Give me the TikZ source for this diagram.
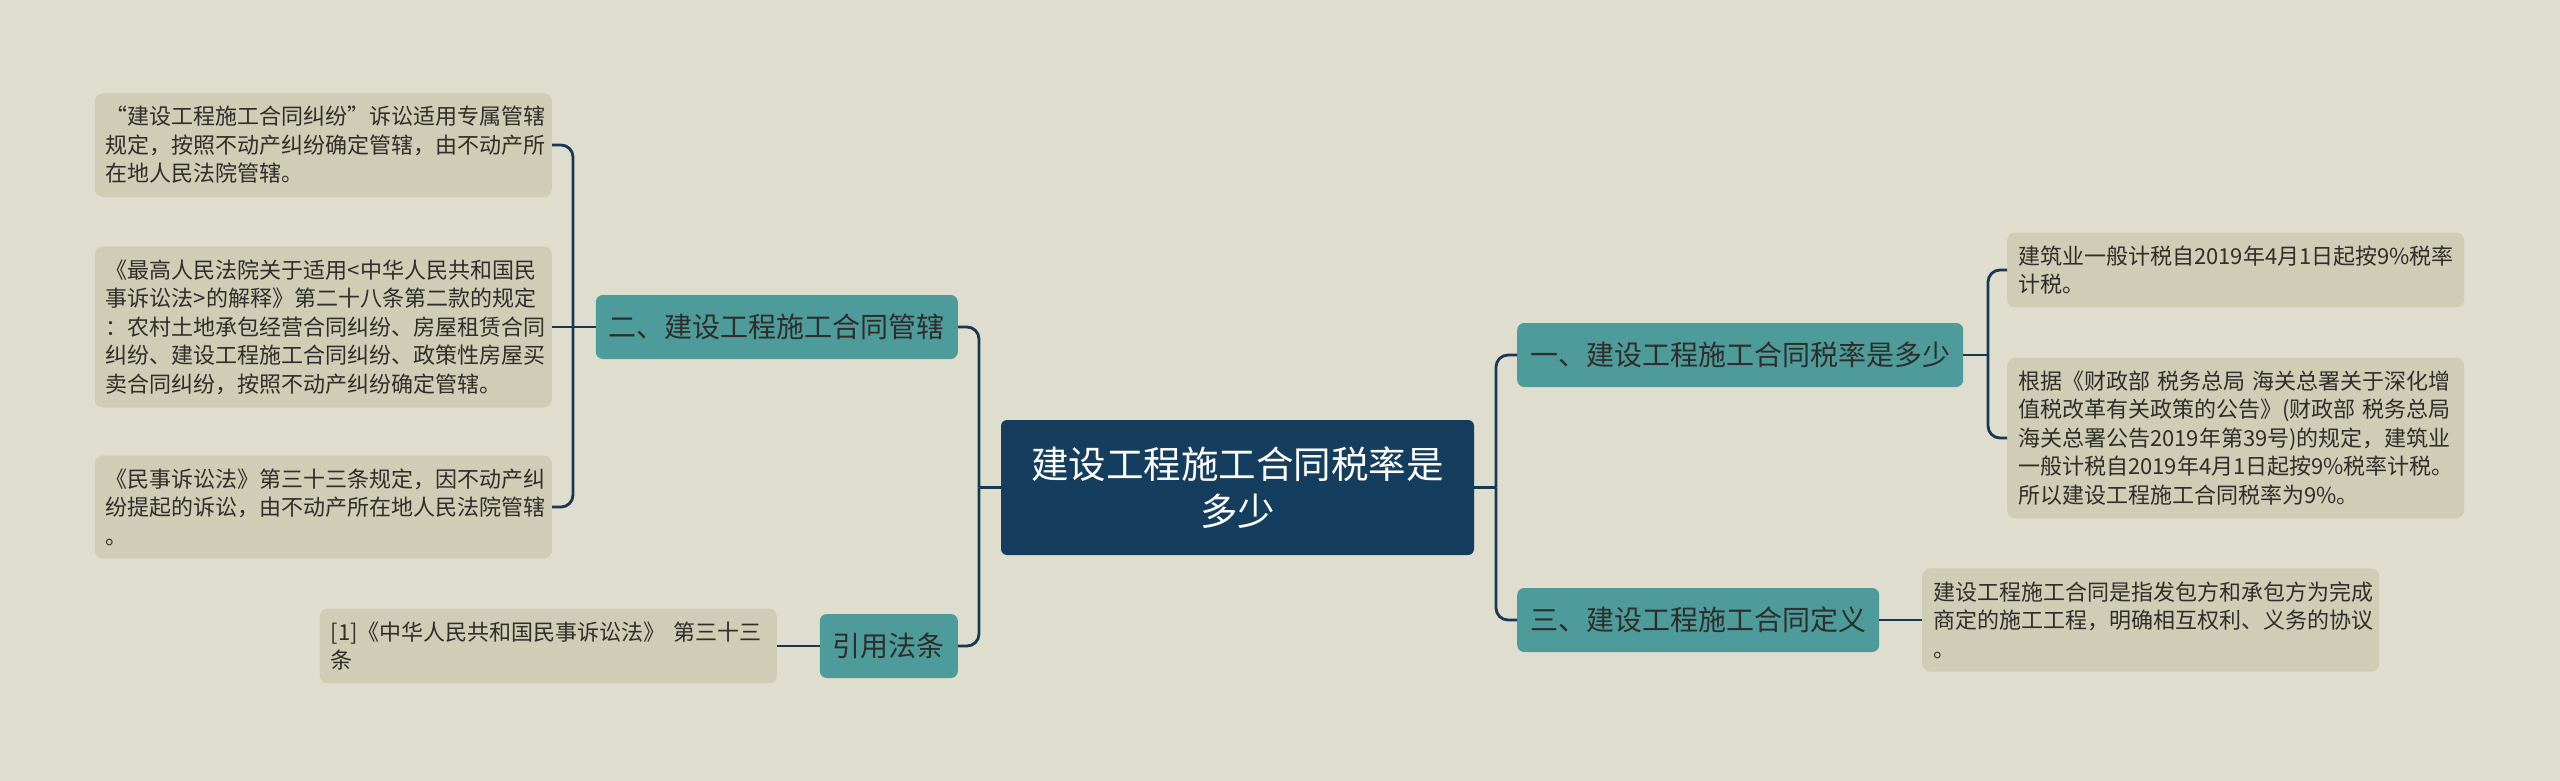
\documentclass[tikz,border=0pt]{standalone}
\usepackage{fontspec}
\setmainfont{Noto Sans CJK SC}
\usepackage{tikz}
\usetikzlibrary{positioning}
\definecolor{bgcol}{HTML}{DFDDCD}
\definecolor{leafcol}{HTML}{CFCDB6}
\definecolor{branchcol}{HTML}{4E9B9B}
\definecolor{rootcol}{HTML}{153D5E}
\definecolor{linecol}{HTML}{173752}
\definecolor{txtcol}{HTML}{2E2E2A}
\tikzset{
	root/.style={draw=none, fill=rootcol, rounded corners=6pt, text=white, align=center,
		minimum width=473pt, minimum height=135pt, font=\fontsize{37.5pt}{47pt}\selectfont},
	branch/.style={fill=branchcol, rounded corners=7pt, text=txtcol, inner xsep=13pt,
		minimum height=64pt, font=\fontsize{28pt}{34pt}\selectfont},
	leaf/.style={fill=leafcol, rounded corners=8pt, text=txtcol, align=left, text width=435pt,
		inner xsep=11pt, inner ysep=13pt, font=\fontsize{22pt}{28.5pt}\selectfont},
	link/.style={draw=linecol, line width=2.8pt, rounded corners=12pt}
}

\begin{document}
\begin{tikzpicture}[x=1pt,y=-1pt]
\fill[bgcol] (0,0) rectangle (2560,781);
\useasboundingbox (0,0) rectangle (2560,781);
\node (root) [root] at (1237.5,487.5) {建设工程施工合同税率是\\多少};
% left side
\node (guanxia) [branch,anchor=east] at (958,327) {二、建设工程施工合同管辖};
\node (fatiao) [branch,anchor=east] at (958,646) {引用法条};
\node (zhuanshu) [leaf,anchor=east] at (552,145) {“建设工程施工合同纠纷”诉讼适用专属管辖\\规定，按照不动产纠纷确定管辖，由不动产所\\在地人民法院管辖。};
\node (jieshi) [leaf,anchor=east] at (552,327) {《最高人民法院关于适用<中华人民共和国民\\事诉讼法>的解释》第二十八条第二款的规定\\：农村土地承包经营合同纠纷、房屋租赁合同\\纠纷、建设工程施工合同纠纷、政策性房屋买\\卖合同纠纷，按照不动产纠纷确定管辖。};
\node (minsu) [leaf,anchor=east] at (552,507) {《民事诉讼法》第三十三条规定，因不动产纠\\纷提起的诉讼，由不动产所在地人民法院管辖\\。};
\node (yinyong) [leaf,anchor=east] at (777,646) {[1]《中华人民共和国民事诉讼法》 第三十三\\条};
% right side
\node (shuilv) [branch,anchor=west] at (1517,355) {一、建设工程施工合同税率是多少};
\node (dingyi) [branch,anchor=west] at (1517,620) {三、建设工程施工合同定义};
\node (jishui) [leaf,anchor=west] at (2007,270) {建筑业一般计税自2019年4月1日起按9\%税率\\计税。};
\node (gonggao) [leaf,anchor=west] at (2007,438) {根据《财政部 税务总局 海关总署关于深化增\\值税改革有关政策的公告》(财政部 税务总局\\海关总署公告2019年第39号)的规定，建筑业\\一般计税自2019年4月1日起按9\%税率计税。\\所以建设工程施工合同税率为9\%。};
\node (xieyi) [leaf,anchor=west] at (1922,620) {建设工程施工合同是指发包方和承包方为完成\\商定的施工工程，明确相互权利、义务的协议\\。};
% connectors
\coordinate (lj) at (979,487.5);
\coordinate (rj) at (1496,487.5);
\coordinate (gj) at (573,327);
\coordinate (sj) at (1988,355);
\draw[link] (root.west) -- (lj);
\draw[link] (lj) |- (guanxia.east); \draw[link] (lj) |- (fatiao.east);
\draw[link] (root.east) -- (rj);
\draw[link] (rj) |- (shuilv.west); \draw[link] (rj) |- (dingyi.west);
\draw[link] (guanxia.west) -- (jieshi.east);
\draw[link] (gj) |- (zhuanshu.east); \draw[link] (gj) |- (minsu.east);
\draw[link] (fatiao.west) -- (yinyong.east);
\draw[link] (shuilv.east) -- (sj);
\draw[link] (sj) |- (jishui.west); \draw[link] (sj) |- (gonggao.west);
\draw[link] (dingyi.east) -- (xieyi.west);
\end{tikzpicture}
\end{document}
